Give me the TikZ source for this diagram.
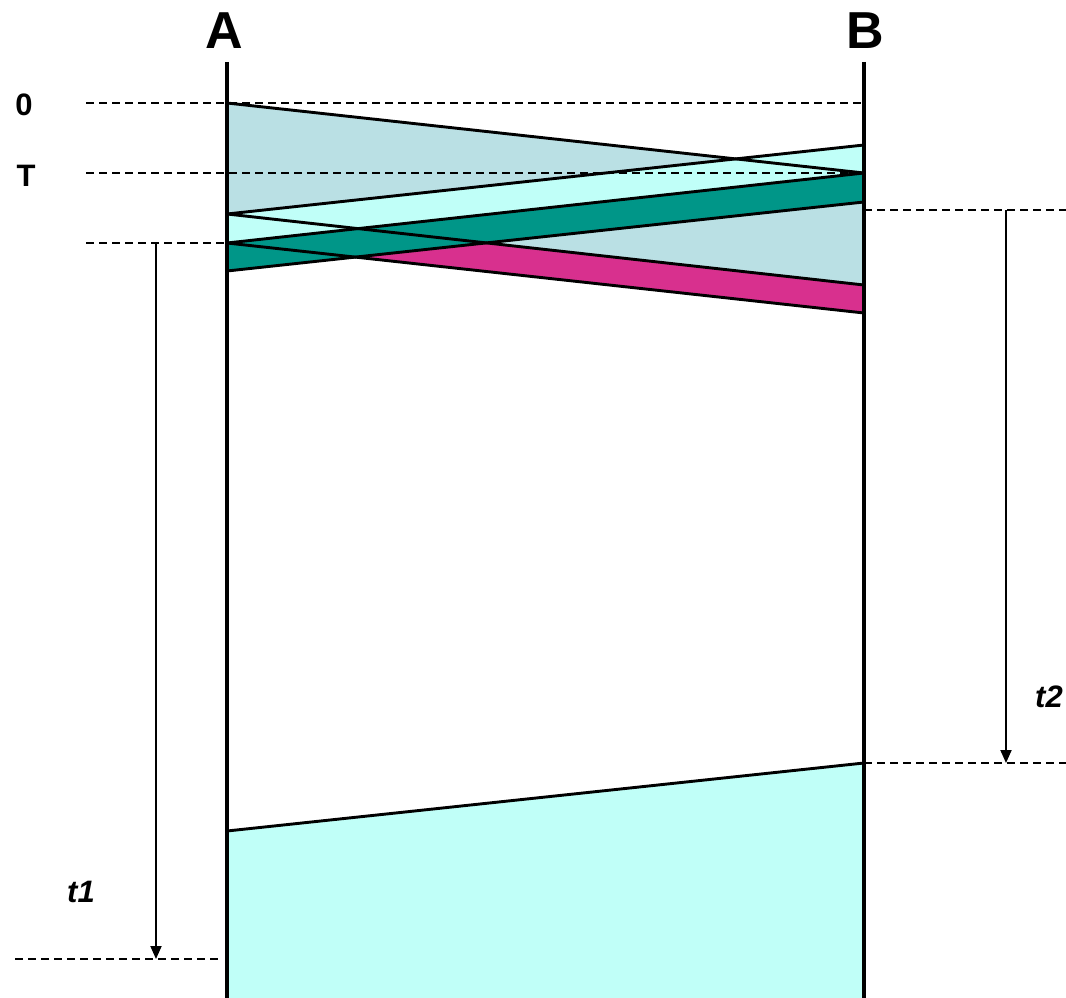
\documentclass[tikz,border=0pt]{standalone}
\usepackage{fontspec}
\setmainfont{Liberation Sans}
\usetikzlibrary{arrows.meta}
\definecolor{bandgray}{RGB}{186,224,228}
\definecolor{bandcyan}{RGB}{192,255,248}
\definecolor{bandteal}{RGB}{0,150,136}
\definecolor{bandmag}{RGB}{216,48,142}
\tikzset{
  guide/.style={line width=2.3pt, dash pattern=on 8pt off 5pt},
  axis/.style={line width=3.4pt},
  edge/.style={line width=2.9pt, line join=round},
  timearrow/.style={line width=1.9pt, -{Triangle[length=13pt,width=11pt]}},
  big/.style={font=\fontsize{52}{52}\selectfont\bfseries, inner sep=0pt},
  mid/.style={font=\fontsize{31}{31}\selectfont\bfseries, inner sep=0pt},
  tlab/.style={font=\fontsize{31}{31}\selectfont\bfseries\itshape, inner sep=0pt},
}
\begin{document}
\begin{tikzpicture}[x=1pt,y=-1pt]
\useasboundingbox (0,0) rectangle (1066,998);
% coordinates on axis A (x=227) and B (x=864)
\coordinate (Atop) at (227,62);  \coordinate (Abot) at (227,998);
\coordinate (Btop) at (864,62);  \coordinate (Bbot) at (864,998);
\coordinate (A103) at (227,103); \coordinate (A214) at (227,214);
\coordinate (A243) at (227,243); \coordinate (A271) at (227,271);
\coordinate (A831) at (227,831);
\coordinate (B145) at (864,145); \coordinate (B173) at (864,173);
\coordinate (B202) at (864,202); \coordinate (B285) at (864,285);
\coordinate (B313) at (864,313); \coordinate (B763) at (864,763);
% fills
\fill[bandgray] (A103) -- (B173) -- (B285) -- (A214) -- cycle;
\fill[bandmag] (A214) -- (B285) -- (B313) -- (A243) -- cycle;
\fill[bandcyan] (A214) -- (B145) -- (B173) -- (A243) -- cycle;
\fill[bandteal] (A243) -- (B173) -- (B202) -- (A271) -- cycle;
\fill[bandcyan] (A831) -- (B763) -- (Bbot) -- (Abot) -- cycle;
% guides
\coordinate (g0) at (86,103); \coordinate (gT) at (86,173);
\coordinate (g243) at (86,243); \coordinate (g959l) at (15,959);
\coordinate (g959r) at (222,959);
\coordinate (g210) at (1066,210); \coordinate (g763) at (1066,763);
\coordinate (B210) at (864,210);
\draw[guide] (g0) -- (864,103);
\draw[guide] (gT) -- (B173);
\draw[guide] (g243) -- (A243);
\draw[guide] (g959l) -- (g959r);
\draw[guide] (B210) -- (g210);
\draw[guide] (B763) -- (g763);
% band edges
\draw[edge] (A103) -- (B173);
\draw[edge] (A214) -- (B285);
\draw[edge] (A243) -- (B313);
\draw[edge] (A214) -- (B145);
\draw[edge] (A243) -- (B173);
\draw[edge] (A271) -- (B202);
\draw[edge] (A831) -- (B763);
% axes
\draw[axis] (Atop) -- (Abot);
\draw[axis] (Btop) -- (Bbot);
% time arrows
\coordinate (t1s) at (156,243); \coordinate (t1e) at (156,959);
\coordinate (t2s) at (1006,210); \coordinate (t2e) at (1006,763);
\draw[timearrow] (t1s) -- (t1e);
\draw[timearrow] (t2s) -- (t2e);
% labels
\node[big] (labA) at (224,31) {A};
\node[big] (labB) at (865,31) {B};
\node[mid] (lab0) at (24,105) {0};
\node[mid] (labT) at (26,176) {T};
\node[tlab] (labt1) at (81,892) {t1};
\node[tlab] (labt2) at (1049,697) {t2};
\end{tikzpicture}
\end{document}
